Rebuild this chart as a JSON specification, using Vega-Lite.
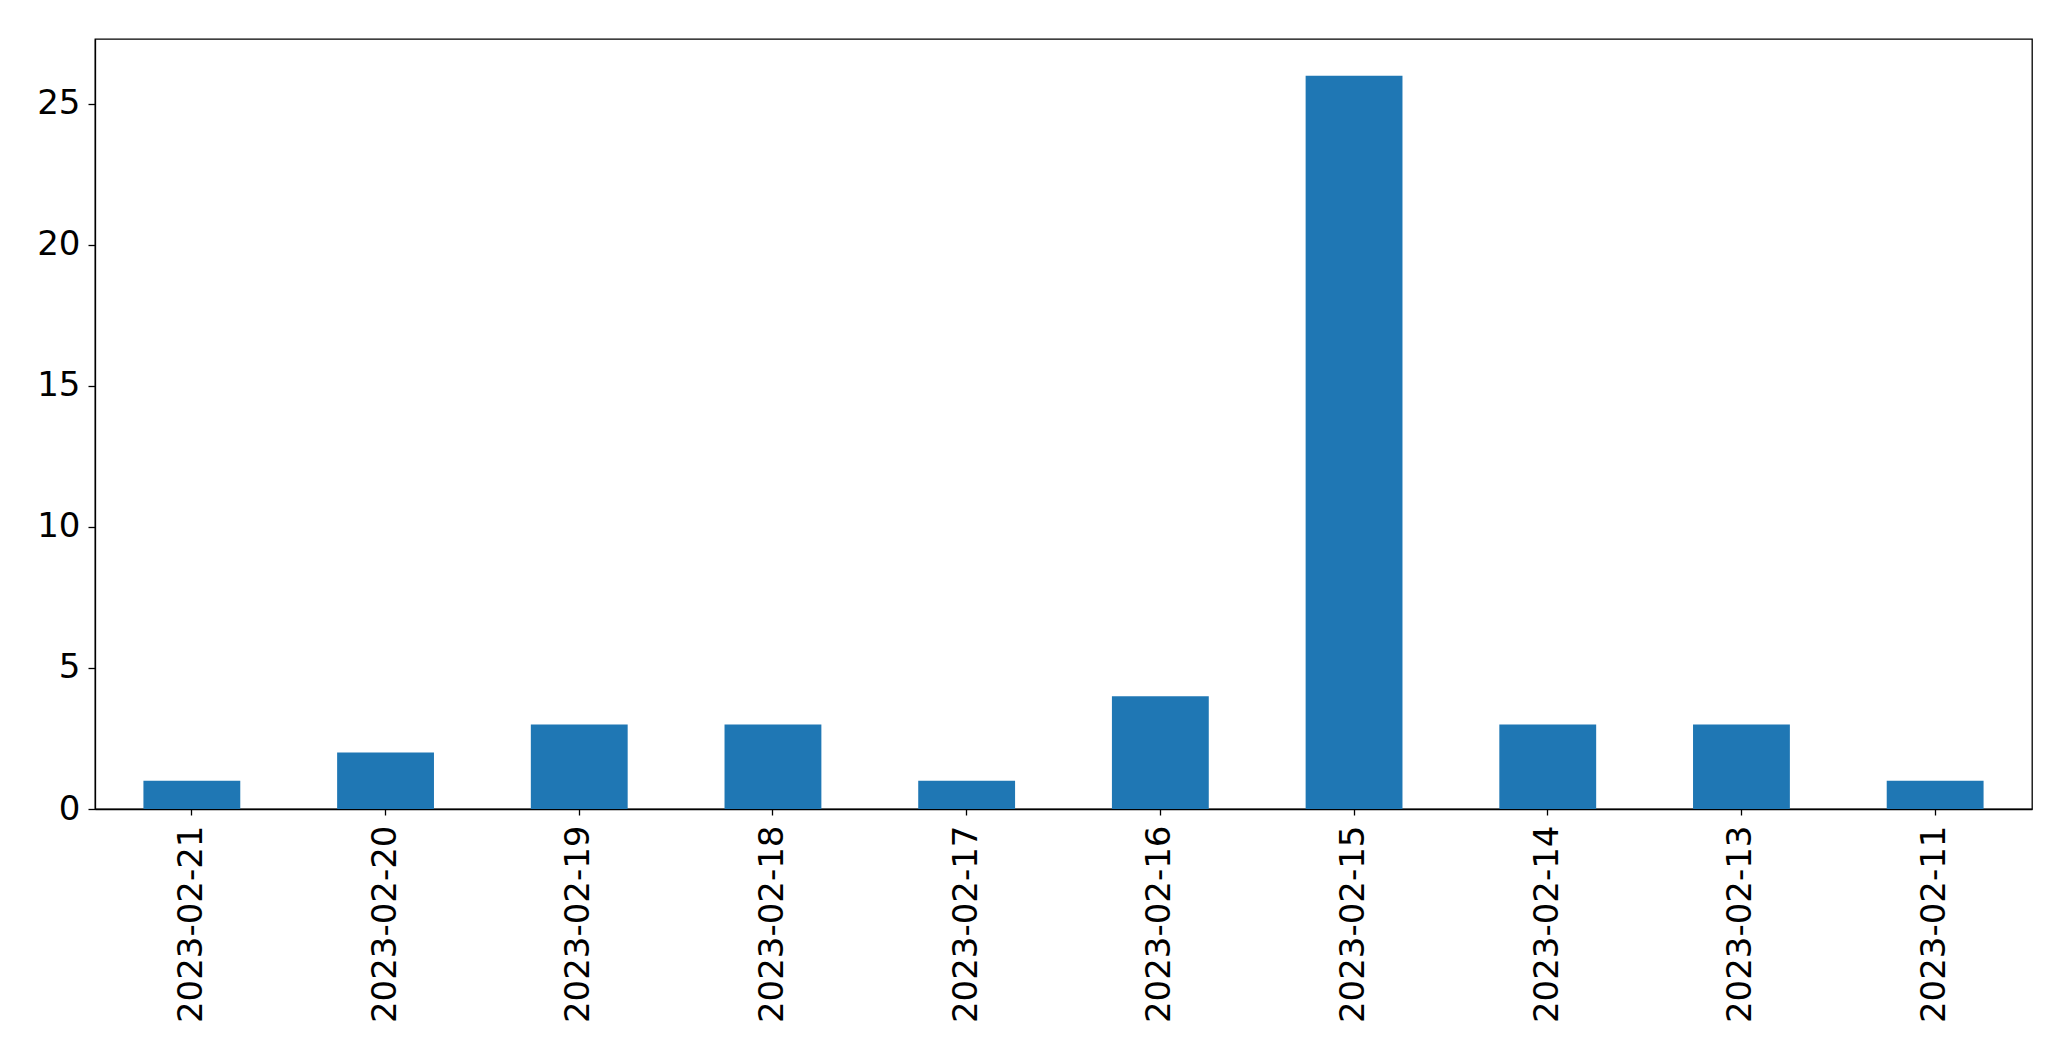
{
  "$schema": "https://vega.github.io/schema/vega-lite/v6.json",
  "width": 1937,
  "height": 770,
  "autosize": {"type": "none"},
  "padding": {"left": 95, "top": 39, "right": 39, "bottom": 252},
  "background": "white",
  "config": {
    "view": {"stroke": "black", "strokeWidth": 1.3},
    "axis": {
      "labelFont": "DejaVu Sans",
      "labelFontSize": 34,
      "labelColor": "black",
      "labelLimit": 0,
      "domainColor": "black",
      "tickColor": "black",
      "tickWidth": 1.3,
      "domainWidth": 1.3,
      "grid": false,
      "title": null
    }
  },
  "data": {
    "values": [
      {"date": "2023-02-21", "count": 1},
      {"date": "2023-02-20", "count": 2},
      {"date": "2023-02-19", "count": 3},
      {"date": "2023-02-18", "count": 3},
      {"date": "2023-02-17", "count": 1},
      {"date": "2023-02-16", "count": 4},
      {"date": "2023-02-15", "count": 26},
      {"date": "2023-02-14", "count": 3},
      {"date": "2023-02-13", "count": 3},
      {"date": "2023-02-11", "count": 1}
    ]
  },
  "mark": {"type": "bar", "color": "#1f77b4"},
  "encoding": {
    "x": {
      "field": "date",
      "type": "nominal",
      "sort": null,
      "scale": {"paddingInner": 0.5, "paddingOuter": 0.25},
      "axis": {"labelAngle": -90, "tickSize": 6, "labelPadding": 10}
    },
    "y": {
      "field": "count",
      "type": "quantitative",
      "scale": {"domain": [0, 27.3], "nice": false, "zero": true},
      "axis": {"values": [0, 5, 10, 15, 20, 25], "tickSize": 7, "labelPadding": 8}
    }
  }
}
